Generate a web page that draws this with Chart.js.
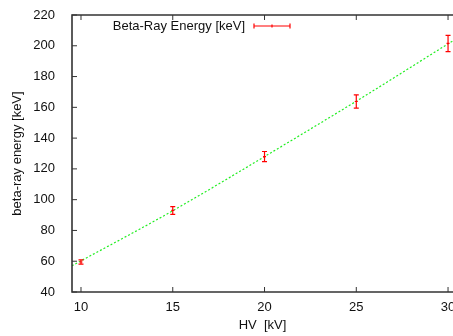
<!DOCTYPE html>
<html>
<head>
<meta charset="utf-8">
<script src="https://cdn.jsdelivr.net/npm/chart.js@4.4.1/dist/chart.umd.min.js"></script>
<style>
  html, body { margin: 0; padding: 0; background: #fff; }
  #wrap { width: 453px; height: 336px; }
</style>
</head>
<body>
<div id="wrap"><canvas id="chart"></canvas></div>
<script>
// measured points (HV in kV, energy in keV, error in keV)
const hvValues = [10, 15, 20, 25, 30];
const energyValues = [59.5, 93, 128, 163.8, 201.5];
const energyErrors = [1.4, 2.5, 3.3, 4.3, 5.3];

// fit curve
const fitHv = [9.5, 15, 20, 25, 30.3];
const fitEnergy = [57, 92.8, 128, 164, 203.5];

const xTicks = [10, 15, 20, 25, 30];
const yTicks = [40, 60, 80, 100, 120, 140, 160, 180, 200, 220];

const legendLabel = 'Beta-Ray Energy [keV]';
const FONT = '"Liberation Sans", Arial, sans-serif';
const RED = '#ff0000';
const GREEN = '#22ee22';
const FRAME = '#333333';

// error bars, inward ticks, frame and legend (gnuplot look)
const gnuplotPlugin = {
    id: 'gnuplot',
    afterDatasetsDraw(chart) {
        const ctx = chart.ctx;
        const xs = chart.scales.x;
        const ys = chart.scales.y;
        const area = chart.chartArea;

        ctx.save();
        // error bars
        ctx.strokeStyle = RED;
        ctx.lineWidth = 1.2;
        hvValues.forEach((hv, i) => {
            const px = xs.getPixelForValue(hv);
            const lo = ys.getPixelForValue(energyValues[i] - energyErrors[i]);
            const hi = ys.getPixelForValue(energyValues[i] + energyErrors[i]);
            const py = ys.getPixelForValue(energyValues[i]);
            ctx.beginPath();
            ctx.moveTo(px, lo); ctx.lineTo(px, hi);
            ctx.moveTo(px - 2.5, lo); ctx.lineTo(px + 2.5, lo);
            ctx.moveTo(px - 2.5, hi); ctx.lineTo(px + 2.5, hi);
            ctx.moveTo(px - 1.5, py); ctx.lineTo(px + 1.5, py);
            ctx.stroke();
        });

        // frame
        ctx.strokeStyle = FRAME;
        ctx.lineWidth = 1.6;
        ctx.beginPath();
        ctx.moveTo(area.right + 2, area.top);
        ctx.lineTo(area.left, area.top);
        ctx.lineTo(area.left, area.bottom);
        ctx.lineTo(area.right + 2, area.bottom);
        ctx.stroke();

        // inward ticks
        ctx.lineWidth = 1;
        ctx.beginPath();
        yTicks.forEach(v => {
            const py = ys.getPixelForValue(v);
            ctx.moveTo(area.left, py); ctx.lineTo(area.left + 5, py);
        });
        xTicks.forEach(v => {
            const px = xs.getPixelForValue(v);
            ctx.moveTo(px, area.bottom); ctx.lineTo(px, area.bottom - 5);
            ctx.moveTo(px, area.top); ctx.lineTo(px, area.top + 5);
        });
        ctx.stroke();

        // legend
        ctx.fillStyle = '#111';
        ctx.font = '13px ' + FONT;
        ctx.textAlign = 'right';
        ctx.textBaseline = 'middle';
        ctx.fillText(legendLabel, 245, 26);
        ctx.strokeStyle = RED;
        ctx.lineWidth = 1.2;
        ctx.beginPath();
        ctx.moveTo(254, 26); ctx.lineTo(290, 26);
        ctx.moveTo(254, 23.5); ctx.lineTo(254, 28.5);
        ctx.moveTo(290, 23.5); ctx.lineTo(290, 28.5);
        ctx.moveTo(272, 24.5); ctx.lineTo(272, 27.5);
        ctx.stroke();
        ctx.restore();
    }
};

new Chart(document.getElementById('chart'), {
    type: 'scatter',
    data: {
        datasets: [{
            label: 'fit',
            data: fitHv.map((x, i) => ({ x, y: fitEnergy[i] })),
            showLine: true,
            borderColor: GREEN,
            borderWidth: 1.2,
            borderDash: [2, 2],
            pointRadius: 0,
            cubicInterpolationMode: 'monotone',
            fill: false
        }]
    },
    options: {
        responsive: true,
        maintainAspectRatio: false,
        animation: false,
        layout: { padding: { top: 15, right: 0, left: 0, bottom: 0 } },
        plugins: {
            legend: { display: false },
            tooltip: { enabled: false }
        },
        scales: {
            x: {
                type: 'linear',
                min: 9.51,
                max: 30.27,
                grid: { display: false },
                border: { display: false },
                afterBuildTicks: s => { s.ticks = xTicks.map(v => ({ value: v })); },
                afterFit: s => { s.height = 44; s.paddingRight = 0; s.paddingLeft = 0; },
                ticks: {
                    color: '#111',
                    font: { family: FONT, size: 13 },
                    padding: 0,
                    maxRotation: 0
                },
                title: {
                    display: true,
                    text: 'HV  [kV]',
                    color: '#111',
                    font: { family: FONT, size: 13 },
                    padding: { top: 0, bottom: 3 }
                }
            },
            y: {
                min: 40,
                max: 220,
                grid: { display: false },
                border: { display: false },
                afterBuildTicks: s => { s.ticks = yTicks.map(v => ({ value: v })); },
                afterFit: s => { s.width = 72; s.paddingTop = 0; s.paddingBottom = 0; },
                ticks: {
                    color: '#111',
                    font: { family: FONT, size: 13 },
                    padding: 9
                },
                title: {
                    display: true,
                    text: 'beta-ray energy [keV]',
                    color: '#111',
                    font: { family: FONT, size: 13 },
                    padding: { top: 10, bottom: 0 }
                }
            }
        }
    },
    plugins: [gnuplotPlugin]
});
</script>
</body>
</html>
